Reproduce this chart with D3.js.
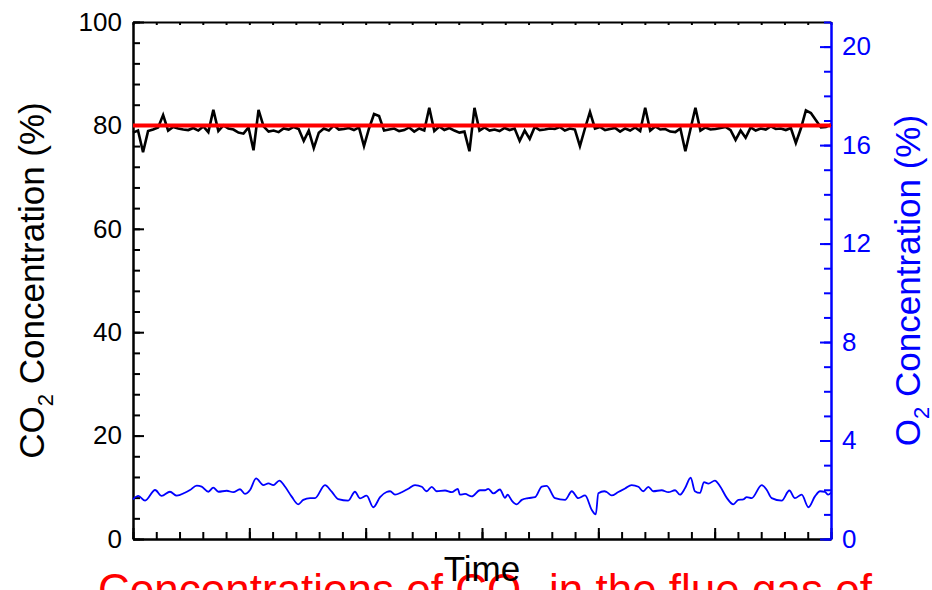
<!DOCTYPE html>
<html>
<head>
<meta charset="utf-8">
<script src="https://cdn.jsdelivr.net/npm/d3@7"></script>
<style>
body { margin: 0; background: #fff; }
svg { display: block; font-family: "Liberation Sans", Arial, sans-serif; }
</style>
</head>
<body>
<svg id="chart" width="932" height="590"></svg>
<script>
// CO2 concentration (%), equally spaced samples over the time axis
var co2Values = [
    78.6, 79.0, 74.8, 78.9, 79.2, 79.6, 82.0, 79.0, 79.7, 79.4,
    79.2, 79.1, 79.5, 79.0, 79.8, 78.7, 83.0, 78.9, 80.0, 79.4,
    79.2, 78.6, 78.4, 79.6, 75.2, 83.0, 79.8, 78.8, 79.0, 78.7,
    79.4, 79.2, 79.7, 79.3, 77.0, 79.0, 75.6, 78.6, 79.4, 79.0,
    80.0, 79.2, 79.3, 79.5, 79.1, 79.6, 76.0, 79.4, 82.2, 81.8,
    79.0, 79.2, 79.4, 78.9, 79.1, 79.6, 78.8, 79.4, 79.0, 83.4,
    78.9, 79.8, 79.1, 79.5, 79.0, 78.6, 78.8, 75.0, 83.4, 79.0,
    79.6, 79.0, 79.2, 78.9, 79.5, 79.1, 79.4, 77.0, 79.0, 77.4,
    79.7, 79.1, 79.2, 79.4, 79.3, 79.7, 79.0, 79.4, 79.2, 76.0,
    79.4, 82.6, 79.4, 79.7, 79.1, 79.3, 79.5, 78.8, 79.4, 79.0,
    79.6, 78.9, 83.4, 79.0, 79.8, 79.2, 79.3, 78.8, 78.7, 79.4,
    75.0, 79.2, 83.4, 79.0, 79.6, 79.2, 79.3, 79.5, 79.7, 79.1,
    77.2, 79.0, 77.6, 79.6, 79.0, 79.4, 79.2, 79.8, 79.3, 79.4,
    79.1, 79.5, 76.6, 79.4, 82.9, 82.4, 81.0, 79.6, 79.7, 80.2
];

// set point for CO2
var targetTime = [0, 300];
var targetValues = [80, 80];

// O2 concentration (%) against time
var o2Time = [
    0, 2.3, 5.2, 9.5, 12.3, 15.9, 18.8, 22.3, 24.5, 27.4,
    29.5, 32.4, 34.5, 36.7, 40.3, 43.1, 46.0, 48.1, 50.3, 52.9,
    56.0, 58.2, 60.3, 62.9, 65.3, 68.2, 71.0, 73.2, 76.1, 78.2,
    82.5, 85.4, 88.2, 92.5, 95.4, 97.6, 100.4, 103.3, 106.2, 109.0,
    110.5, 112.6, 115.5, 118.3, 121.2, 124.1, 126.2, 128.4, 130.5, 134.1,
    137.0, 139.6, 140.5, 142.7, 145.6, 149.1, 151.3, 152.7, 154.9, 157.7,
    159.9, 161.0, 162.8, 164.9, 167.1, 169.9, 172.8, 175.7, 177.8, 181.4,
    185.7, 188.6, 191.4, 194.3, 197.2, 198.9, 200.0, 202.6, 203.6, 205.7,
    208.6, 211.5, 214.3, 217.2, 219.3, 221.5, 223.6, 227.2, 230.1, 233.0,
    235.1, 237.3, 239.7, 241.5, 243.7, 245.4, 247.3, 250.1, 252.3, 255.2,
    258.0, 260.2, 262.3, 263.8, 265.9, 270.2, 272.4, 274.5, 278.8, 282.1,
    284.5, 287.4, 290.3, 293.1, 295.3, 297.4, 298.8, 300
];
var o2Values = [
    1.61, 1.75, 1.56, 1.99, 1.75, 1.92, 1.76, 1.88, 1.99, 2.17,
    2.13, 1.92, 2.09, 1.92, 1.96, 1.90, 2.02, 1.83, 1.99, 2.46,
    2.19, 2.26, 2.19, 2.37, 2.13, 1.72, 1.41, 1.59, 1.66, 1.66,
    2.19, 1.92, 1.62, 1.56, 1.92, 1.65, 1.76, 1.29, 1.70, 1.91,
    1.94, 1.80, 1.90, 2.04, 2.19, 2.12, 1.94, 2.12, 1.94, 1.97,
    1.90, 2.04, 1.80, 1.83, 1.73, 1.98, 1.98, 2.04, 1.85, 2.01,
    1.67, 1.80, 1.56, 1.41, 1.59, 1.66, 1.70, 2.13, 2.16, 1.66,
    1.59, 1.94, 1.66, 1.77, 1.18, 1.00, 1.86, 1.94, 1.91, 1.77,
    1.91, 2.05, 2.19, 2.12, 1.94, 2.12, 1.94, 1.98, 1.90, 1.98,
    1.80, 2.07, 2.49, 1.94, 1.87, 2.31, 2.25, 2.37, 2.14, 1.67,
    1.41, 1.59, 1.61, 1.70, 1.66, 2.19, 1.99, 1.66, 1.56, 1.97,
    1.66, 1.80, 1.29, 1.73, 1.94, 1.91, 1.80, 1.89
];

var leftMajor = [0, 20, 40, 60, 80, 100];
var leftMinor = d3.range(0, 101, 4);
var rightMajor = [0, 4, 8, 12, 16, 20];
var rightMinor = d3.range(0, 22, 1);
var timeMajor = d3.range(0, 301, 50);
var timeMinor = d3.range(0, 301, 10);

var BLUE = "#0000ff";
var RED = "#ff0000";

// plot frame (window.top is reserved, so no bare "top")
var plotLeft = 133, plotRight = 831, plotTop = 22, plotBottom = 539;

var svg = d3.select("#chart");

var x = d3.scaleLinear().domain([0, 300]).range([plotLeft, plotRight]);
var co2Index = d3.scaleLinear().domain([0, co2Values.length - 1]).range([0, 300]);
var yL = d3.scaleLinear().domain([0, 100]).range([plotBottom, plotTop]);
var yR = d3.scaleLinear().domain([0, 21]).range([plotBottom, plotTop]);

function styleAxis(g, color) {
    g.select(".domain").attr("stroke", color).attr("stroke-width", 2);
    g.selectAll(".tick line").attr("stroke", color).attr("stroke-width", 2);
    g.selectAll(".tick text").attr("fill", color)
        .style("font-family", "'Liberation Sans', Arial, sans-serif")
        .style("font-size", "26px");
}

// top axis (mirror, short ticks)
svg.append("g")
    .attr("transform", "translate(0," + plotTop + ")")
    .call(d3.axisTop(x).tickValues(timeMinor).tickFormat("").tickSizeInner(-3).tickSizeOuter(0))
    .call(styleAxis, "#000");

// bottom axis
svg.append("g")
    .attr("transform", "translate(0," + plotBottom + ")")
    .call(d3.axisBottom(x).tickValues(timeMinor).tickFormat("").tickSizeInner(-7).tickSizeOuter(0))
    .call(styleAxis, "#000");
svg.append("g")
    .attr("transform", "translate(0," + plotBottom + ")")
    .call(d3.axisBottom(x).tickValues(timeMajor).tickFormat("").tickSizeInner(-11).tickSizeOuter(0))
    .call(styleAxis, "#000");

// left axis
svg.append("g")
    .attr("transform", "translate(" + plotLeft + ",0)")
    .call(d3.axisLeft(yL).tickValues(leftMinor).tickFormat("").tickSizeInner(-7).tickSizeOuter(0))
    .call(styleAxis, "#000");
svg.append("g")
    .attr("transform", "translate(" + plotLeft + ",0)")
    .call(d3.axisLeft(yL).tickValues(leftMajor).tickFormat(d3.format("d")).tickSizeInner(-11).tickSizeOuter(0).tickPadding(11))
    .call(styleAxis, "#000");

// right axis
svg.append("g")
    .attr("transform", "translate(" + plotRight + ",0)")
    .call(d3.axisRight(yR).tickValues(rightMinor).tickFormat("").tickSizeInner(-7).tickSizeOuter(0))
    .call(styleAxis, BLUE);
svg.append("g")
    .attr("transform", "translate(" + plotRight + ",0)")
    .call(d3.axisRight(yR).tickValues(rightMajor).tickFormat(d3.format("d")).tickSizeInner(-11).tickSizeOuter(0).tickPadding(11))
    .call(styleAxis, BLUE);

// CO2 series
var co2Line = d3.line()
    .x(function(d, i) { return x(co2Index(i)); })
    .y(function(d) { return yL(d); });
svg.append("path")
    .datum(co2Values)
    .attr("d", co2Line)
    .attr("fill", "none")
    .attr("stroke", "#000")
    .attr("stroke-width", 2.6)
    .attr("stroke-linejoin", "miter");

// set point
var targetLine = d3.line()
    .x(function(d, i) { return x(targetTime[i]); })
    .y(function(d) { return yL(d); });
svg.append("path")
    .datum(targetValues)
    .attr("d", targetLine)
    .attr("fill", "none")
    .attr("stroke", RED)
    .attr("stroke-width", 4);

// O2 series
var o2Line = d3.line()
    .curve(d3.curveMonotoneX)
    .x(function(d, i) { return x(o2Time[i]); })
    .y(function(d) { return yR(d); });
svg.append("path")
    .datum(o2Values)
    .attr("d", o2Line)
    .attr("fill", "none")
    .attr("stroke", BLUE)
    .attr("stroke-width", 1.8);

// axis titles
var ylab = svg.append("text")
    .attr("transform", "translate(44," + ((plotTop + plotBottom) / 2) + ") rotate(-90)")
    .attr("text-anchor", "middle")
    .style("font-size", "35px")
    .attr("fill", "#000");
ylab.append("tspan").text("CO");
ylab.append("tspan").attr("dy", 9).style("font-size", "22px").text("2");
ylab.append("tspan").attr("dy", -9).text(" Concentration (%)");

var y2lab = svg.append("text")
    .attr("transform", "translate(920," + ((plotTop + plotBottom) / 2) + ") rotate(-90)")
    .attr("text-anchor", "middle")
    .style("font-size", "35px")
    .attr("fill", BLUE);
y2lab.append("tspan").text("O");
y2lab.append("tspan").attr("dy", 9).style("font-size", "22px").text("2");
y2lab.append("tspan").attr("dy", -9).text(" Concentration (%)");

// the caption underneath, cut by the bottom edge
var cap = svg.append("text")
    .attr("x", 485)
    .attr("y", 605)
    .attr("text-anchor", "middle")
    .style("font-size", "44px")
    .attr("fill", RED);
cap.append("tspan").text("Concentrations of CO");
cap.append("tspan").attr("dy", 10).style("font-size", "28px").text("2");
cap.append("tspan").attr("dy", -10).text(" in the flue gas of");

svg.append("text")
    .attr("x", (plotLeft + plotRight) / 2)
    .attr("y", 581)
    .attr("text-anchor", "middle")
    .style("font-size", "35px")
    .attr("fill", "#000")
    .text("Time");
</script>
</body>
</html>
